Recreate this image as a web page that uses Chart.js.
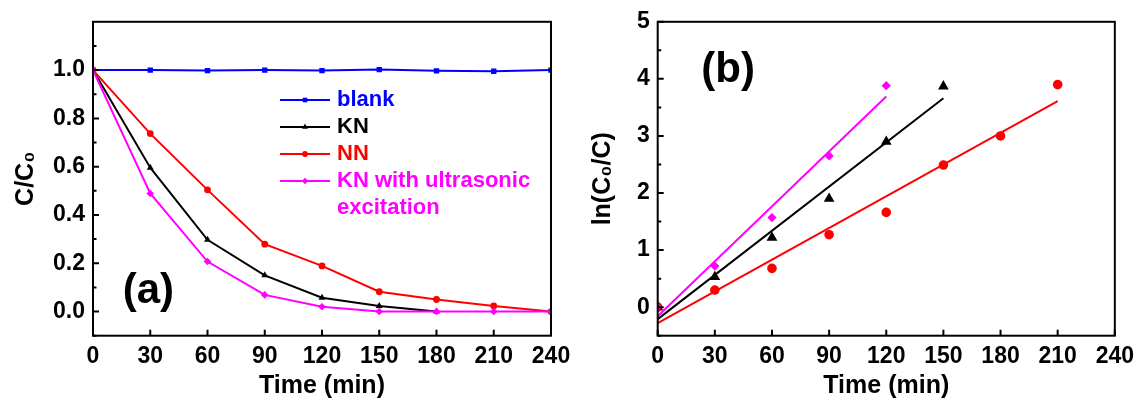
<!DOCTYPE html>
<html><head><meta charset="utf-8">
<script src="https://cdn.jsdelivr.net/npm/chart.js@4/dist/chart.umd.min.js"></script>
<style>
html,body{margin:0;padding:0;background:#fff;width:1141px;height:401px;overflow:hidden;}
canvas{position:absolute;top:0;}
#ca{left:0;} #cb{left:580px;}
</style></head><body>
<canvas id="ca" width="580" height="401"></canvas>
<canvas id="cb" width="561" height="401"></canvas>
<script>
// ---------- Panel (a) data ----------
const timeA   = [0, 30, 60, 90, 120, 150, 180, 210, 240];
const timeKNA = [0, 30, 60, 90, 120, 150, 180];
const blankA  = [1.0, 1.0, 0.998, 1.0, 0.998, 1.002, 0.997, 0.995, 1.0];
const knA     = [1.0, 0.596, 0.297, 0.150, 0.057, 0.023, 0.0];
const nnA     = [1.0, 0.737, 0.504, 0.279, 0.189, 0.082, 0.050, 0.023, 0.0];
const knUsA   = [1.0, 0.489, 0.207, 0.069, 0.020, 0.0, 0.0, 0.0, 0.0];
const seriesNamesA = ['blank', 'KN', 'NN', 'KN with ultrasonic\nexcitation'];
const yTicksA = [0, 0.2, 0.4, 0.6, 0.8, 1.0];
const yMinorA = [-0.1, 0.1, 0.3, 0.5, 0.7, 0.9, 1.1];
const xTicks  = [0, 30, 60, 90, 120, 150, 180, 210, 240];

// ---------- Panel (b) data ----------
const timeKNB = [0, 30, 60, 90, 120, 150];
const knB     = [0, 0.53, 1.22, 1.90, 2.90, 3.87];
const timeNNB = [0, 30, 60, 90, 120, 150, 180, 210];
const nnB     = [0, 0.30, 0.68, 1.27, 1.66, 2.49, 3.00, 3.90];
const timeUsB = [0, 30, 60, 90, 120];
const knUsB   = [0, 0.72, 1.57, 2.65, 3.88];
const fitKNx = [0, 150],  fitKNy = [-0.21, 3.66];
const fitNNx = [0, 210],  fitNNy = [-0.28, 3.61];
const fitUsx = [0, 120],  fitUsy = [-0.16, 3.69];
const yTicksB = [0, 1, 2, 3, 4, 5];
const yMinorB = [-0.5, 0.5, 1.5, 2.5, 3.5, 4.5];

const FONT = "Arial, 'Liberation Sans', Helvetica, sans-serif";
Chart.defaults.font.family = FONT;
Chart.defaults.color = '#000';

const BLUE = '#0000FF', BLACK = '#000000', RED = '#FF0000', MAG = '#FF00FF';
const pts = (xs, ys) => xs.map((x, i) => ({x: x, y: ys[i]}));

function makeFrame(cfg) {
  return {
    id: 'frame',
    afterDatasetsDraw(chart) {
      const {ctx, chartArea: a, scales: {x, y}} = chart;
      ctx.save();
      ctx.strokeStyle = '#000';
      ctx.lineWidth = 2;
      ctx.strokeRect(a.left, a.top, a.right - a.left, a.bottom - a.top);
      ctx.beginPath();
      cfg.xMajor.forEach(v => { const p = x.getPixelForValue(v); ctx.moveTo(p, a.bottom); ctx.lineTo(p, a.bottom - 6); });
      cfg.yMajor.forEach(v => { const p = y.getPixelForValue(v); ctx.moveTo(a.left, p); ctx.lineTo(a.left + 6, p); });
      cfg.yMinor.forEach(v => { const p = y.getPixelForValue(v); ctx.moveTo(a.left, p); ctx.lineTo(a.left + 3.5, p); });
      ctx.stroke();
      ctx.font = 'bold 42px ' + FONT;
      ctx.fillStyle = '#000';
      ctx.textAlign = 'center';
      ctx.textBaseline = 'middle';
      ctx.fillText(cfg.label, x.getPixelForValue(cfg.labelAt[0]), y.getPixelForValue(cfg.labelAt[1]));
      if (cfg.legend) {
        const L = cfg.legend;
        let row = 0;
        chart.data.datasets.forEach((ds, i) => {
          const yy = L.y + row * L.row;
          ctx.strokeStyle = ds.borderColor;
          ctx.lineWidth = 2;
          ctx.beginPath(); ctx.moveTo(L.x, yy); ctx.lineTo(L.x + L.len, yy); ctx.stroke();
          ctx.fillStyle = ds.backgroundColor;
          Chart.helpers.drawPoint(ctx, {pointStyle: ds.pointStyle, radius: ds.pointRadius * 0.85, rotation: 0, borderWidth: 0}, L.x + L.len / 2, yy);
          ctx.font = 'bold 22px ' + FONT;
          ctx.textAlign = 'left';
          ctx.textBaseline = 'middle';
          ctx.fillStyle = ds.borderColor;
          const lines = cfg.names[i].split('\n');
          lines.forEach((t, j) => ctx.fillText(t, L.x + L.len + L.gap, L.y + (row + j) * L.row));
          row += lines.length;
        });
      }
      ctx.restore();
    }
  };
}

function mkScales(o) {
  return {
    x: {
      type: 'linear', min: 0, max: 240,
      afterBuildTicks: s => { s.ticks = xTicks.map(v => ({value: v})); },
      afterFit: s => { s.height = o.xH; },
      grid: {display: false, drawTicks: false}, border: {display: false},
      ticks: {font: {size: 23, weight: 'bold'}, color: '#000', padding: 7, maxRotation: 0, autoSkip: false},
      title: {display: true, text: 'Time (min)', font: {size: 25, weight: 'bold'}, color: '#000', padding: {top: 0, bottom: 0}}
    },
    y: {
      type: 'linear', min: o.yMin, max: o.yMax,
      afterBuildTicks: s => { s.ticks = o.yTicks.map(v => ({value: v})); },
      afterFit: s => { s.width = o.yW; },
      grid: {display: false, drawTicks: false}, border: {display: false},
      ticks: {font: {size: 23, weight: 'bold'}, color: '#000', padding: 8, autoSkip: false, callback: o.fmt},
      title: {display: true, text: o.yTitle, font: {size: 25, weight: 'bold'}, color: '#000', padding: {top: o.tPad, bottom: 0}}
    }
  };
}

const commonPlugins = {legend: {display: false}, tooltip: {enabled: false}};

// ---------- Chart (a) ----------
new Chart(document.getElementById('ca'), {
  type: 'line',
  data: {
    datasets: [
      {label: seriesNamesA[0], data: pts(timeA, blankA), borderColor: BLUE, backgroundColor: BLUE, pointStyle: 'rect', pointRadius: 3.8, pointBorderWidth: 0, borderWidth: 2, order: 3, clip: 0},
      {label: seriesNamesA[1], data: pts(timeKNA, knA), borderColor: BLACK, backgroundColor: BLACK, pointStyle: 'triangle', pointRadius: 4, pointBorderWidth: 0, borderWidth: 2, order: 2, clip: 0},
      {label: seriesNamesA[2], data: pts(timeA, nnA), borderColor: RED, backgroundColor: RED, pointStyle: 'circle', pointRadius: 3.4, pointBorderWidth: 0, borderWidth: 2, order: 1, clip: 0},
      {label: seriesNamesA[3], data: pts(timeA, knUsA), borderColor: MAG, backgroundColor: MAG, pointStyle: 'rectRot', pointRadius: 3.8, pointBorderWidth: 0, borderWidth: 2, order: 0, clip: 0}
    ]
  },
  options: {
    responsive: false, animation: false, devicePixelRatio: 1,
    layout: {padding: {top: 19.5, right: 29, bottom: 0, left: 0}},
    scales: mkScales({yMin: -0.1, yMax: 1.2, yTicks: yTicksA, yW: 93, xH: 65.3, yTitle: 'C/C\u2080', tPad: 11, fmt: v => Number(v).toFixed(1)}),
    plugins: commonPlugins
  },
  plugins: [makeFrame({xMajor: xTicks, yMajor: yTicksA, yMinor: yMinorA, label: '(a)', labelAt: [29, 0.085],
    names: seriesNamesA, legend: {x: 280, y: 100, len: 50, gap: 7, row: 27}})]
});

// ---------- Chart (b) ----------
new Chart(document.getElementById('cb'), {
  type: 'line',
  data: {
    datasets: [
      {label: 'KN with ultrasonic excitation', data: pts(timeUsB, knUsB), showLine: false, borderColor: MAG, backgroundColor: MAG, pointStyle: 'rectRot', pointRadius: 4.6, pointBorderWidth: 0, clip: 0},
      {label: 'KN', data: pts(timeKNB, knB), showLine: false, borderColor: BLACK, backgroundColor: BLACK, pointStyle: 'triangle', pointRadius: 6.2, pointBorderWidth: 0, clip: 0},
      {label: 'NN', data: pts(timeNNB, nnB), showLine: false, borderColor: RED, backgroundColor: RED, pointStyle: 'circle', pointRadius: 4.8, pointBorderWidth: 0, clip: 0},
      {label: 'KN with ultrasonic excitation fit', data: pts(fitUsx, fitUsy), borderColor: MAG, backgroundColor: MAG, pointRadius: 0, borderWidth: 2, clip: 0},
      {label: 'KN fit', data: pts(fitKNx, fitKNy), borderColor: BLACK, backgroundColor: BLACK, pointRadius: 0, borderWidth: 2, clip: 0},
      {label: 'NN fit', data: pts(fitNNx, fitNNy), borderColor: RED, backgroundColor: RED, pointRadius: 0, borderWidth: 2, clip: 0}
    ]
  },
  options: {
    responsive: false, animation: false, devicePixelRatio: 1,
    layout: {padding: {top: 19.3, right: 21, bottom: 0, left: 0}},
    scales: mkScales({yMin: -0.5, yMax: 5, yTicks: yTicksB, yW: 77.7, xH: 65.3, yTitle: 'ln(C\u2080/C)', tPad: 8, fmt: v => String(v)}),
    plugins: commonPlugins
  },
  plugins: [makeFrame({xMajor: xTicks, yMajor: yTicksB, yMinor: yMinorB, label: '(b)', labelAt: [37, 4.15]})]
});
</script>
</body></html>
